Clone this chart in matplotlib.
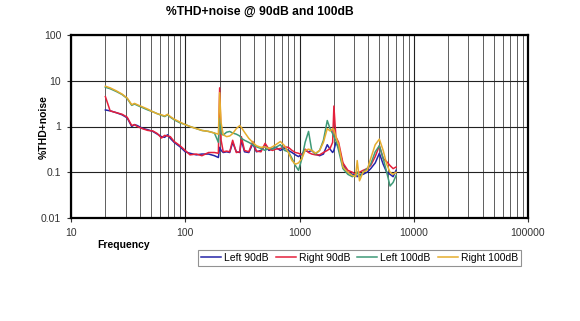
import matplotlib
matplotlib.use('Agg')
import matplotlib.pyplot as plt
from matplotlib.ticker import LogLocator, FixedLocator, NullFormatter, FixedFormatter

plt.rcParams['font.family'] = ['Liberation Sans', 'DejaVu Sans']

# frequency grid (Hz)
freq = [20, 22, 25, 28, 31, 34, 36, 38, 42, 47, 52, 57, 62, 66, 70, 74, 80, 90,
        100, 110, 125, 140, 160, 180, 195, 200, 206, 215, 230, 245, 260, 280,
        300, 310, 330, 360, 390, 420, 460, 500, 540, 580, 620, 680, 740, 800,
        860, 920, 980, 1050, 1120, 1200, 1280, 1380, 1500, 1620, 1750, 1850,
        1950, 2000, 2080, 2200, 2400, 2650, 2900, 3100, 3200, 3350, 3600, 3900,
        4200, 4600, 5000, 5400, 5800, 6200, 6600, 7000]

left_90 = [2.3, 2.2, 2.0, 1.8, 1.55, 1.0, 1.1, 1.05, 0.92, 0.85, 0.78, 0.68, 0.6,
           0.58, 0.66, 0.55, 0.45, 0.36, 0.28, 0.26, 0.24, 0.25, 0.25, 0.23, 0.21,
           0.35, 0.3, 0.27, 0.28, 0.27, 0.45, 0.28, 0.27, 0.5, 0.28, 0.27, 0.42,
           0.28, 0.3, 0.38, 0.3, 0.33, 0.35, 0.3, 0.34, 0.3, 0.27, 0.24, 0.22,
           0.25, 0.3, 0.28, 0.3, 0.25, 0.23, 0.25, 0.4, 0.32, 0.27, 0.3, 0.45,
           0.35, 0.15, 0.1, 0.09, 0.085, 0.08, 0.09, 0.09, 0.1, 0.12, 0.16, 0.26,
           0.15, 0.1, 0.09, 0.08, 0.11]

right_90 = [4.5, 2.2, 2.0, 1.85, 1.6, 1.05, 1.1, 1.0, 0.9, 0.82, 0.8, 0.7, 0.56,
            0.64, 0.62, 0.6, 0.47, 0.38, 0.3, 0.24, 0.25, 0.23, 0.27, 0.27, 0.26,
            7.0, 0.5, 0.28, 0.29, 0.28, 0.5, 0.27, 0.28, 0.6, 0.3, 0.28, 0.47,
            0.29, 0.28, 0.43, 0.32, 0.3, 0.32, 0.33, 0.36, 0.35, 0.3, 0.27, 0.26,
            0.24, 0.32, 0.27, 0.25, 0.24, 0.24, 0.27, 0.3, 0.33, 0.45, 2.8, 0.6,
            0.45, 0.16, 0.11, 0.1, 0.09, 0.1, 0.1, 0.11, 0.12, 0.14, 0.22, 0.38,
            0.2, 0.17, 0.14, 0.12, 0.13]

left_100 = [7.2, 6.7, 5.8, 5.0, 4.1, 2.9, 3.1, 2.9, 2.6, 2.3, 2.1, 1.9, 1.75, 1.65,
            1.8, 1.6, 1.4, 1.2, 1.1, 1.0, 0.9, 0.82, 0.78, 0.72, 0.45, 1.5, 0.7,
            0.65, 0.75, 0.78, 0.72, 0.68, 0.62, 0.55, 0.5, 0.45, 0.4, 0.36, 0.33,
            0.3, 0.34, 0.32, 0.35, 0.4, 0.3, 0.28, 0.2, 0.14, 0.11, 0.2, 0.45,
            0.78, 0.3, 0.25, 0.3, 0.5, 1.35, 0.9, 0.7, 0.6, 0.5, 0.3, 0.12, 0.09,
            0.08, 0.09, 0.1, 0.08, 0.1, 0.12, 0.15, 0.28, 0.38, 0.2, 0.1, 0.05,
            0.06, 0.085]

right_100 = [7.6, 7.0, 6.0, 5.1, 4.2, 3.0, 3.2, 3.0, 2.7, 2.4, 2.1, 1.9, 1.8, 1.7,
             1.85, 1.65, 1.45, 1.25, 1.1, 1.0, 0.9, 0.82, 0.78, 0.72, 0.68, 5.5,
             1.2, 0.66, 0.6, 0.62, 0.7, 0.9, 1.05, 0.95, 0.75, 0.55, 0.45, 0.38,
             0.35, 0.36, 0.33, 0.36, 0.4, 0.47, 0.38, 0.27, 0.18, 0.15, 0.16, 0.2,
             0.3, 0.32, 0.3, 0.26, 0.3, 0.45, 0.9, 0.8, 0.9, 0.85, 0.6, 0.4, 0.13,
             0.1, 0.085, 0.08, 0.18, 0.065, 0.1, 0.11, 0.2, 0.4, 0.53, 0.3, 0.15,
             0.1, 0.09, 0.1]

series_names = ['Left 90dB', 'Right 90dB', 'Left 100dB', 'Right 100dB']
colors = ['#2424a8', '#e4203c', '#3f9a78', '#e6ad2e']

fig = plt.figure(figsize=(5.8, 3.21), dpi=100)
ax = fig.add_axes([71 / 580, 1 - 218 / 321, 457 / 580, 183 / 321])

for vals, name, c in zip([left_90, right_90, left_100, right_100], series_names, colors):
    ax.plot(freq, vals, color=c, lw=1.1, label=name)

ax.set_xscale('log')
ax.set_yscale('log')
ax.set_xlim(10, 100000)
ax.set_ylim(0.01, 100)

ax.xaxis.set_major_locator(FixedLocator([10, 100, 1000, 10000, 100000]))
ax.xaxis.set_major_formatter(FixedFormatter(['10', '100', '1000', '10000', '100000']))
ax.xaxis.set_minor_locator(LogLocator(base=10, subs=range(2, 10)))
ax.xaxis.set_minor_formatter(NullFormatter())
ax.yaxis.set_major_locator(FixedLocator([0.01, 0.1, 1, 10, 100]))
ax.yaxis.set_major_formatter(FixedFormatter(['0.01', '0.1', '1', '10', '100']))
ax.yaxis.set_minor_locator(FixedLocator([]))

ax.grid(True, which='major', color='#222222', lw=0.8)
ax.grid(True, which='minor', axis='x', color='#444444', lw=0.6)
ax.set_axisbelow(True)
ax.tick_params(which='major', length=3, width=0.8, labelsize=7.5, colors='#333333', pad=4)
ax.tick_params(which='minor', length=0)
for s in ax.spines.values():
    s.set_linewidth(1.6)
    s.set_color('black')

fig.text(260 / 580, 1 - 12 / 321, '%THD+noise @ 90dB and 100dB', ha='center', va='center',
         fontsize=8.7, fontweight='bold')
fig.text(97 / 580, 1 - 245 / 321, 'Frequency', ha='left', va='center',
         fontsize=7.5, fontweight='bold')
fig.text(44 / 580, 1 - 127 / 321, '%THD+noise', ha='center', va='center',
         rotation=90, fontsize=7.5, fontweight='bold')

leg = fig.legend(loc='upper left', bbox_to_anchor=(198 / 580, 1 - 250 / 321), ncol=4,
                 fontsize=7.5, frameon=True, fancybox=False, edgecolor='#777777',
                 handlelength=1.9, handletextpad=0.3, columnspacing=0.7,
                 borderpad=0.3, borderaxespad=0)
leg.get_frame().set_linewidth(0.8)

fig.savefig('out.png', dpi=100)
